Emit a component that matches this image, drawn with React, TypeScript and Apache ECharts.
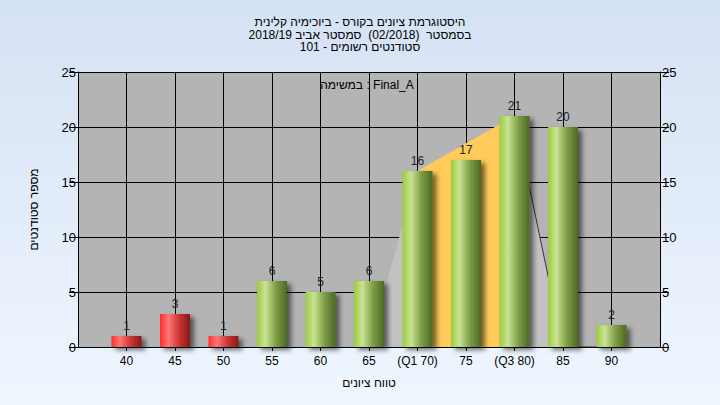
import React, { useEffect, useRef } from "react";
import * as echarts from "echarts";

const titleLines = [
  "היסטוגרמת ציונים בקורס - ביוכימיה קלינית",
  "בסמסטר  (02/2018)  סמסטר אביב 2018/19",
  "סטודנטים רשומים - 101",
];
const subtitle = "במשימה : Final_A";
const xAxisName = "טווח ציונים";
const yAxisName = "מספר סטודנטים";

const grades = [40, 45, 50, 55, 60, 65, 70, 75, 80, 85, 90];
const gradeLabels = ["40", "45", "50", "55", "60", "65", "(Q1 70)", "75", "(Q3 80)", "85", "90"];
const counts = [1, 3, 1, 6, 5, 6, 16, 17, 21, 20, 2];
const passMark = 55;

const greyPolygon = [[65, 0], [70, 16], [80, 21], [85, 0]];
const iqrArea = [[70, 16], [80, 21]];
const edgeLine = [[80, 21], [85, 0], [90, 0]];

const FONT = "Liberation Sans, DejaVu Sans, sans-serif";

export default function App() {
  const ref = useRef<HTMLDivElement>(null);
  useEffect(() => {
    if (!ref.current) return;
    const chart = echarts.init(ref.current, undefined, { renderer: "svg" });
    const green = new echarts.graphic.LinearGradient(0, 0, 1, 0, [
      { offset: 0, color: "#9dcb3e" },
      { offset: 0.28, color: "#c8e393" },
      { offset: 0.65, color: "#7c9a43" },
      { offset: 1, color: "#4d6826" },
    ]);
    const red = new echarts.graphic.LinearGradient(0, 0, 1, 0, [
      { offset: 0, color: "#ff2e2e" },
      { offset: 0.28, color: "#ff7676" },
      { offset: 0.65, color: "#c83434" },
      { offset: 1, color: "#881818" },
    ]);
    const labelMap: Record<number, string> = {};
    grades.forEach((g, i) => (labelMap[g] = gradeLabels[i]));

    const axisY = (pos: "left" | "right") => ({
      type: "value",
      position: pos,
      min: 0,
      max: 25,
      interval: 5,
      name: pos === "left" ? yAxisName : "",
      nameLocation: "middle",
      nameGap: 38,
      nameTextStyle: { fontFamily: FONT, fontSize: 12, color: "#000" },
      axisLine: { show: true, lineStyle: { color: "#000", width: 1 } },
      axisTick: { show: true, length: 9, lineStyle: { color: "#000" } },
      axisLabel: { fontFamily: FONT, fontSize: 13, color: "#000", margin: 2 },
      splitLine: { show: pos === "left", lineStyle: { color: "#000", width: 1 } },
    });

    chart.setOption({
      animation: false,
      backgroundColor: new echarts.graphic.LinearGradient(0, 0, 0, 1, [
        { offset: 0, color: "#d5e2f4" },
        { offset: 1, color: "#eff6fe" },
      ]),
      title: {
        text: titleLines.join("\n"),
        left: "center",
        top: 11,
        textStyle: { fontFamily: FONT, fontSize: 12, fontWeight: "normal", color: "#000", lineHeight: 12.5 },
      },
      graphic: [
        {
          type: "text",
          x: 367,
          y: 85,
          style: {
            text: subtitle,
            fontFamily: FONT,
            fontSize: 12,
            fill: "#000",
            align: "center",
            verticalAlign: "middle",
          },
          z: 100,
        },
      ],
      grid: {
        left: 78,
        right: 60,
        top: 72,
        bottom: 58,
        show: true,
        backgroundColor: "#b4b4b4",
        borderWidth: 0,
      },
      xAxis: {
        type: "value",
        min: 35,
        max: 95,
        interval: 5,
        name: xAxisName,
        nameLocation: "middle",
        nameGap: 30,
        nameTextStyle: { fontFamily: FONT, fontSize: 12, color: "#000" },
        axisLine: { show: true, onZero: false, lineStyle: { color: "#000" } },
        axisTick: { show: true, length: 4, lineStyle: { color: "#000" } },
        axisLabel: {
          fontFamily: FONT,
          fontSize: 12,
          color: "#000",
          margin: 8,
          showMinLabel: false,
          showMaxLabel: false,
          formatter: (v: number) => labelMap[v] ?? "",
        },
        splitLine: { show: true, lineStyle: { color: "#000", width: 1 } },
      },
      yAxis: [axisY("left"), axisY("right")],
      series: [
        {
          type: "line",
          data: greyPolygon,
          symbol: "none",
          lineStyle: { width: 0, opacity: 0 },
          areaStyle: { color: "#c2c2c2", opacity: 1 },
          z: 1,
        },
        {
          type: "line",
          data: iqrArea,
          symbol: "none",
          lineStyle: { width: 0, opacity: 0 },
          areaStyle: { color: "#ffcb5a", opacity: 1 },
          z: 2,
        },
        {
          type: "line",
          data: edgeLine,
          symbol: "none",
          lineStyle: { width: 1, color: "#333" },
          z: 3,
        },
        {
          type: "bar",
          barWidth: 30,
          z: 5,
          data: grades.map((g, i) => ({
            value: [g, counts[i]],
            itemStyle: {
              color: g < passMark ? red : green,
              shadowColor: "rgba(0,0,0,0.55)",
              shadowBlur: 5,
              shadowOffsetX: 4,
              shadowOffsetY: 3,
            },
          })),
          label: {
            show: true,
            position: "top",
            distance: 4,
            fontFamily: FONT,
            fontSize: 12,
            color: "#222",
            formatter: (p: any) => String(p.value[1]),
          },
        },
      ],
    });
    return () => chart.dispose();
  }, []);
  return <div ref={ref} style={{ position: "absolute", left: 0, top: 0, width: 720, height: 405 }} />;
}
